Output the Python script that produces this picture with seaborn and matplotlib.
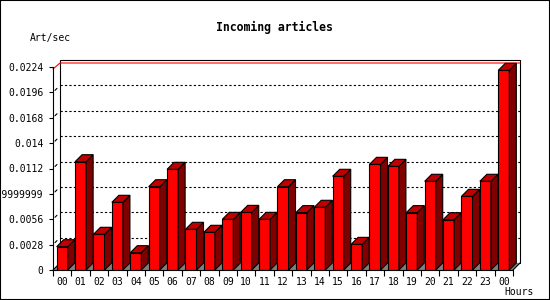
import numpy as np
import pandas as pd
import matplotlib
matplotlib.use("Agg")
import matplotlib.pyplot as plt
from matplotlib.patches import Polygon, Rectangle
from matplotlib.lines import Line2D
import seaborn as sns

# ---- data ----
hour_labels = ["00", "01", "02", "03", "04", "05", "06", "07", "08", "09", "10", "11",
               "12", "13", "14", "15", "16", "17", "18", "19", "20", "21", "22", "23", "00"]
art_per_sec = [0.00257, 0.01195, 0.00394, 0.00747, 0.00191, 0.00919, 0.01111, 0.00449,
               0.00416, 0.00559, 0.00636, 0.00559, 0.00919, 0.00633, 0.00692, 0.01034,
               0.00283, 0.01166, 0.01144, 0.00633, 0.00979, 0.00555, 0.00813, 0.00979,
               0.02203]
ytick_values = [0, 0.0028, 0.0056, 0.0084, 0.0112, 0.014, 0.0168, 0.0196, 0.0224]
ytick_labels = ["0", "0.0028", "0.0056", "0.008399999999999999", "0.0112", "0.014",
                "0.0168", "0.0196", "0.0224"]
title = "Incoming articles"
ylabel = "Art/sec"
xlabel = "Hours"

sns.set_style("white")
plt.rcParams["font.family"] = ["DejaVu Sans Mono", "DejaVu Sans"]

W, H = 550, 300
fig = plt.figure(figsize=(W / 100, H / 100), dpi=100)
fig.patch.set_facecolor("white")
ax = fig.add_axes([53 / W, 30 / H, 460 / W, 203 / H])
ax.patch.set_visible(False)

df = pd.DataFrame({"slot": np.arange(len(art_per_sec)), "value": art_per_sec})
sns.barplot(data=df, x="slot", y="value", color="#FF0000", saturation=1, width=0.6,
            edgecolor="black", linewidth=0.8, ax=ax, zorder=3)

n = len(art_per_sec)
ax.set_xlim(-0.5, n - 0.5)
ax.set_ylim(ytick_values[0], ytick_values[-1])
ax.set_xlabel("")
ax.set_ylabel("")

# pixel -> data scale for the 3D depth
fig.canvas.draw()
p0 = ax.transData.transform((0, 0))
p1 = ax.transData.transform((1, 1))
px_x = p1[0] - p0[0]
px_y = p1[1] - p0[1]
depth = 7
dx = depth / px_x
dy = depth / px_y
x_lo, x_hi = -0.5, n - 0.5
ytop = ytick_values[-1]

# floor
ax.add_patch(Polygon([(x_lo, 0), (x_hi, 0), (x_hi + dx, dy), (x_lo + dx, dy)],
                     closed=True, facecolor="#808080", edgecolor="none",
                     clip_on=False, zorder=0.5))
# back panel
ax.add_patch(Rectangle((x_lo + dx, dy), x_hi - x_lo, ytop, facecolor="white",
                       edgecolor="black", linewidth=0.8, clip_on=False, zorder=0.4))
# floor diagonals
for xx in (x_lo, x_hi):
    ax.add_line(Line2D([xx, xx + dx], [0, dy], color="black", lw=0.8,
                       clip_on=False, zorder=0.6))

# dotted gridlines at the back
for yv in ytick_values[1:-1]:
    ax.add_line(Line2D([x_lo + dx, x_hi + dx], [yv + dy, yv + dy], color="black",
                       lw=0.8, linestyle=(0, (2, 2)), clip_on=False, zorder=0.7))
    # small marks on the left wall
    ax.add_line(Line2D([x_lo + 2 / px_x, x_lo + 4 / px_x],
                       [yv + 2 / px_y, yv + 4 / px_y], color="black", lw=0.8,
                       clip_on=False, zorder=0.7))
# red top line
ax.add_line(Line2D([x_lo, x_lo + dx, x_hi + dx],
                   [ytop - 2 / px_y, ytop + 4 / px_y, ytop + 4 / px_y],
                   color="#FF0000", lw=0.8, clip_on=False, zorder=0.8))

# 3D faces of the bars
for p in list(ax.patches):
    if not hasattr(p, "get_width") or p.get_facecolor()[0] != 1.0 or p.get_height() <= 0:
        continue
    if isinstance(p, Rectangle) and p.get_zorder() == 3:
        x0 = p.get_x()
        w = p.get_width()
        h = p.get_height()
        x1 = x0 + w
        ax.add_patch(Polygon([(x1, 0), (x1, h), (x1 + dx, h + dy), (x1 + dx, dy)],
                             closed=True, facecolor="#800000", edgecolor="black",
                             linewidth=0.8, clip_on=False, zorder=3))
        ax.add_patch(Polygon([(x0, h), (x1, h), (x1 + dx, h + dy), (x0 + dx, h + dy)],
                             closed=True, facecolor="#C00000", edgecolor="black",
                             linewidth=0.8, clip_on=False, zorder=3))

# spines
for s in ("top", "right"):
    ax.spines[s].set_visible(False)
for s in ("left", "bottom"):
    ax.spines[s].set_color("black")
    ax.spines[s].set_linewidth(0.8)
    ax.spines[s].set_zorder(5)

# ticks
ax.set_yticks(ytick_values)
ax.set_yticklabels(ytick_labels)
ax.tick_params(axis="y", which="major", direction="out", length=3, width=0.8,
               pad=4, labelsize=7, colors="black", left=True)
ax.set_xticks(np.arange(n + 1) - 0.5)
ax.set_xticklabels([""] * (n + 1))
ax.set_xticks(np.arange(n), minor=True)
ax.set_xticklabels(hour_labels, minor=True)
ax.tick_params(axis="x", which="major", direction="out", length=4, width=0.8,
               bottom=True, colors="black")
ax.tick_params(axis="x", which="minor", length=0, pad=5, labelsize=7,
               colors="black", bottom=True)
ax.grid(False)

fig.text(274 / W, 1 - 27 / H, title, ha="center", va="center", fontsize=8.3,
         fontweight="bold", color="black")
fig.text(50.5 / W, 1 - 37.5 / H, ylabel, ha="center", va="center", fontsize=7,
         color="black")
fig.text(519.5 / W, 1 - 292 / H, xlabel, ha="center", va="center", fontsize=7,
         color="black")

fig.patches.append(Rectangle((0, 0), 1, 1, transform=fig.transFigure, fill=False,
                             edgecolor="black", linewidth=1.5, zorder=10))

fig.savefig("out.png", dpi=100, facecolor="white")
